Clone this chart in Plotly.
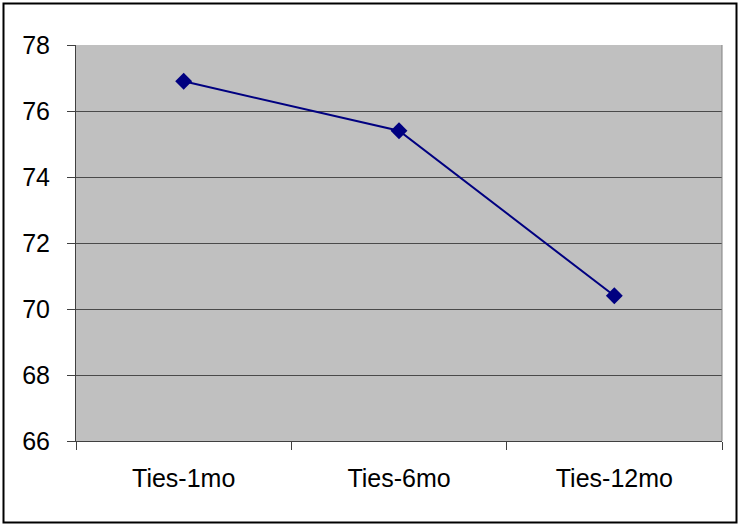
import plotly.graph_objects as go

categories = ["Ties-1mo", "Ties-6mo", "Ties-12mo"]
values = [76.9, 75.4, 70.4]
y_ticks = [66, 68, 70, 72, 74, 76, 78]

fig = go.Figure()
fig.add_trace(go.Scatter(
    x=categories, y=values, mode="lines+markers",
    line=dict(color="#000080", width=2),
    marker=dict(symbol="diamond", size=13, color="#000080"),
    showlegend=False,
))

W, H = 739, 525
L, R, T, B = 76, 17, 45, 84
pw, ph = W - L - R, H - T - B

def px(x):
    return (x - L) / pw

def py(y):
    return (H - B - y) / ph

fig.add_shape(type="rect", xref="paper", yref="paper",
              x0=px(3.5), x1=px(736.5), y0=py(522.5), y1=py(3.5),
              line=dict(color="black", width=2), layer="below")

font = dict(family="Arial, Liberation Sans", size=25, color="black")

fig.update_layout(
    width=W, height=H,
    margin=dict(l=L, r=R, t=T, b=B),
    paper_bgcolor="white",
    plot_bgcolor="#C0C0C0",
    font=font,
    xaxis=dict(
        type="category", range=[-0.5, 2.5],
        tickson="boundaries", ticks="outside", ticklen=8, tickcolor="#404040",
        showgrid=False, showline=True, linecolor="#404040", linewidth=1,
        mirror=False, tickfont=font, ticklabelstandoff=15,
        zeroline=False,
    ),
    yaxis=dict(
        range=[66, 78], tickvals=y_ticks, ticktext=[str(v) for v in y_ticks],
        ticks="outside", ticklen=8, tickcolor="#404040",
        showgrid=True, gridcolor="#4a4a4a", gridwidth=1,
        showline=True, linecolor="#404040", linewidth=1,
        tickfont=font, ticklabelstandoff=12, zeroline=False,
    ),
)
fig.add_shape(type="line", xref="paper", yref="paper", x0=1, x1=1, y0=0, y1=1,
              line=dict(color="#808080", width=1))

fig.write_html("out.html",
               config={"displayModeBar": False},
               post_script="document.body.style.margin='0';document.body.style.overflow='hidden';")
